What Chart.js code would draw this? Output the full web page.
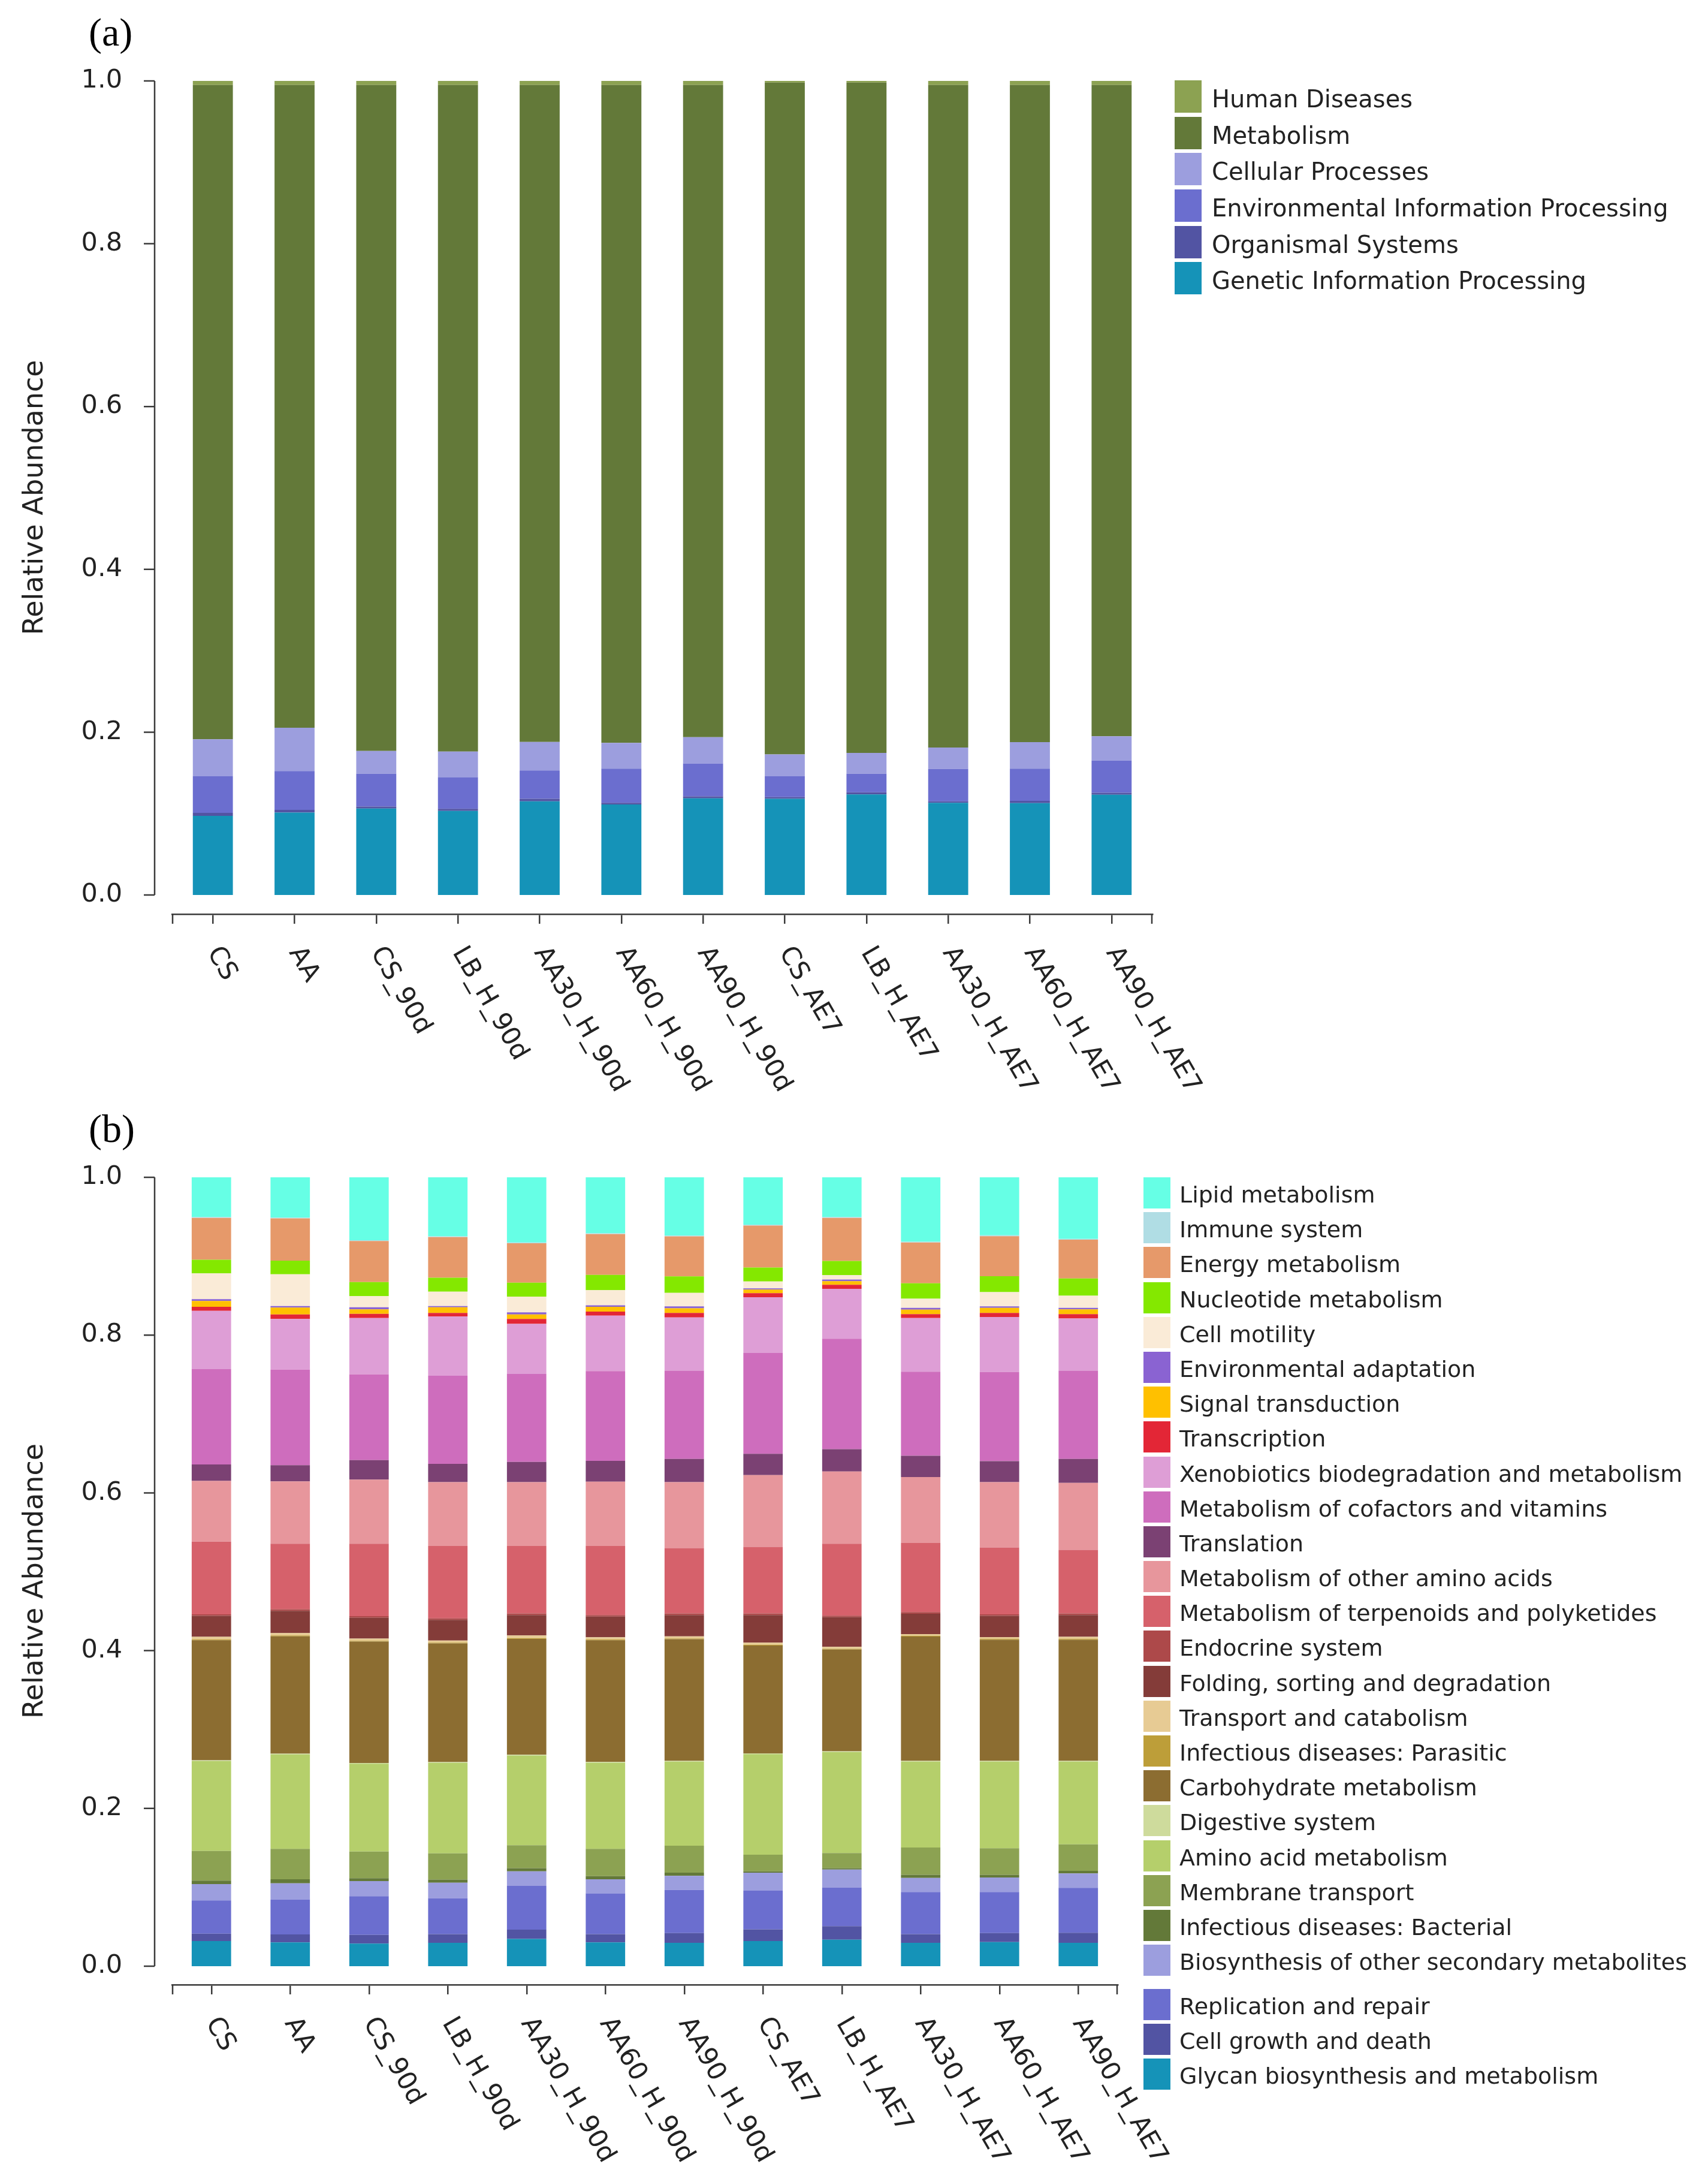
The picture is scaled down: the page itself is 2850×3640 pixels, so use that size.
<!DOCTYPE html>
<html>
<head>
<meta charset="utf-8">
<script src="https://cdn.jsdelivr.net/npm/chart.js@4.4.1/dist/chart.umd.min.js"></script>
<style>
html,body{margin:0;padding:0;background:#fff;}
body{width:2850px;height:3640px;position:relative;overflow:hidden;font-family:"DejaVu Sans",sans-serif;}
canvas{position:absolute;left:0;}
#cA{top:0;}
#cB{top:1830px;}
.panel{position:absolute;left:148px;font-family:"Liberation Serif","Times New Roman",serif;font-size:66px;line-height:66px;color:#000;}
.legend{position:absolute;margin:0;padding:0;list-style:none;color:#222;font-family:"DejaVu Sans",sans-serif;}
.legend li{display:flex;align-items:flex-start;white-space:nowrap;box-sizing:border-box;overflow:hidden;}
.legend .sw{flex:none;display:block;}
.legend .tx{display:block;}
</style>
</head>
<body>
<div class="panel" style="top:21px;">(a)</div>
<div class="panel" style="top:1850px;">(b)</div>
<canvas id="cA" width="2100" height="1830"></canvas>
<canvas id="cB" width="2100" height="1810"></canvas>
<ul class="legend" id="legA"></ul>
<ul class="legend" id="legB"></ul>
<script>
// ---------------- data ----------------
const categories = ['CS','AA','CS_90d','LB_H_90d','AA30_H_90d','AA60_H_90d','AA90_H_90d','CS_AE7','LB_H_AE7','AA30_H_AE7','AA60_H_AE7','AA90_H_AE7'];
const yTicks = [0, 0.2, 0.4, 0.6, 0.8, 1.0];
const yTickLabels = ['0.0', '0.2', '0.4', '0.6', '0.8', '1.0'];
const yTitle = 'Relative Abundance';

// Panel (a) – KEGG level 1 (bottom to top)
const geneticInfoA   = [0.0972,0.1013,0.1063,0.1033,0.1150,0.1112,0.1187,0.1182,0.1236,0.1133,0.1128,0.1231];
const organismalA    = [0.0036,0.0032,0.0024,0.0025,0.0032,0.0021,0.0025,0.0020,0.0025,0.0017,0.0029,0.0025];
const envInfoA       = [0.0454,0.0477,0.0402,0.0389,0.0347,0.0418,0.0403,0.0260,0.0228,0.0399,0.0394,0.0396];
const cellularA      = [0.0451,0.0532,0.0280,0.0315,0.0351,0.0317,0.0323,0.0265,0.0256,0.0262,0.0327,0.0298];
const metabolismA    = [0.8037,0.7896,0.8181,0.8188,0.8070,0.8082,0.8012,0.8253,0.8235,0.8139,0.8072,0.8000];
const humanDiseaseA  = [0.0050,0.0050,0.0050,0.0050,0.0050,0.0050,0.0050,0.0020,0.0020,0.0050,0.0050,0.0050];

// Panel (b) – KEGG level 2 (bottom to top)
const glycanB        = [0.0319,0.0302,0.0286,0.0296,0.0346,0.0302,0.0296,0.0319,0.0336,0.0296,0.0306,0.0296];
const cellGrowthB    = [0.0094,0.0101,0.0110,0.0110,0.0118,0.0104,0.0124,0.0148,0.0171,0.0110,0.0114,0.0127];
const replicationB   = [0.0420,0.0443,0.0491,0.0454,0.0554,0.0518,0.0547,0.0490,0.0491,0.0535,0.0521,0.0571];
const biosynthB      = [0.0208,0.0205,0.0191,0.0198,0.0185,0.0178,0.0178,0.0229,0.0228,0.0178,0.0184,0.0182];
const bacterialB     = [0.0044,0.0051,0.0037,0.0040,0.0040,0.0040,0.0041,0.0017,0.0017,0.0040,0.0034,0.0033];
const membraneB      = [0.0376,0.0386,0.0339,0.0333,0.0289,0.0346,0.0342,0.0211,0.0191,0.0346,0.0336,0.0336];
const aminoAcidB     = [0.1139,0.1196,0.1112,0.1146,0.1138,0.1092,0.1065,0.1273,0.1280,0.1088,0.1098,0.1048];
const digestiveB     = [0.0010,0.0010,0.0010,0.0010,0.0010,0.0010,0.0010,0.0010,0.0010,0.0010,0.0010,0.0010];
const carbohydrateB  = [0.1522,0.1488,0.1539,0.1504,0.1469,0.1542,0.1542,0.1368,0.1290,0.1576,0.1535,0.1535];
const parasiticB     = [0.0010,0.0010,0.0010,0.0010,0.0010,0.0010,0.0010,0.0010,0.0010,0.0010,0.0010,0.0010];
const transportB     = [0.0033,0.0030,0.0027,0.0027,0.0033,0.0027,0.0027,0.0026,0.0024,0.0020,0.0024,0.0027];
const foldingB       = [0.0266,0.0283,0.0265,0.0262,0.0259,0.0262,0.0269,0.0350,0.0376,0.0259,0.0269,0.0276];
const endocrineB     = [0.0020,0.0020,0.0020,0.0020,0.0020,0.0020,0.0020,0.0020,0.0020,0.0020,0.0020,0.0020];
const terpenoidB     = [0.0920,0.0830,0.0918,0.0916,0.0855,0.0875,0.0829,0.0845,0.0911,0.0877,0.0846,0.0807];
const otherAminoB    = [0.0771,0.0790,0.0813,0.0810,0.0810,0.0816,0.0836,0.0910,0.0915,0.0835,0.0829,0.0848];
const translationB   = [0.0208,0.0206,0.0247,0.0231,0.0257,0.0263,0.0295,0.0269,0.0283,0.0270,0.0266,0.0305];
const cofactorsB     = [0.1208,0.1211,0.1086,0.1118,0.1114,0.1138,0.1118,0.1279,0.1401,0.1066,0.1131,0.1118];
const xenobioticsB   = [0.0739,0.0642,0.0716,0.0751,0.0636,0.0703,0.0675,0.0707,0.0633,0.0681,0.0697,0.0662];
const transcriptionB = [0.0052,0.0058,0.0052,0.0045,0.0061,0.0051,0.0057,0.0051,0.0051,0.0048,0.0051,0.0054];
const signalB        = [0.0073,0.0087,0.0057,0.0071,0.0058,0.0061,0.0058,0.0045,0.0045,0.0058,0.0065,0.0061];
const envAdaptB      = [0.0023,0.0019,0.0026,0.0016,0.0026,0.0020,0.0026,0.0016,0.0022,0.0023,0.0019,0.0020];
const motilityB      = [0.0328,0.0402,0.0141,0.0183,0.0199,0.0192,0.0170,0.0087,0.0055,0.0115,0.0180,0.0154];
const nucleotideB    = [0.0173,0.0173,0.0180,0.0177,0.0177,0.0193,0.0209,0.0176,0.0180,0.0196,0.0202,0.0218];
const energyB        = [0.0530,0.0536,0.0520,0.0514,0.0500,0.0517,0.0507,0.0533,0.0546,0.0517,0.0507,0.0491];
const immuneB        = [0.0010,0.0010,0.0010,0.0010,0.0010,0.0010,0.0010,0.0010,0.0010,0.0010,0.0010,0.0010];
const lipidB         = [0.0504,0.0511,0.0797,0.0748,0.0826,0.0710,0.0739,0.0601,0.0504,0.0816,0.0736,0.0781];

// ---------------- series (stack order: bottom first) ----------------
const seriesA = [
  {label:'Genetic Information Processing', data:geneticInfoA, color:'#1593b8'},
  {label:'Organismal Systems', data:organismalA, color:'#5254a3'},
  {label:'Environmental Information Processing', data:envInfoA, color:'#6b6ecf'},
  {label:'Cellular Processes', data:cellularA, color:'#9c9ede'},
  {label:'Metabolism', data:metabolismA, color:'#637939'},
  {label:'Human Diseases', data:humanDiseaseA, color:'#8ca252'}
];
const seriesB = [
  {label:'Glycan biosynthesis and metabolism', data:glycanB, color:'#1593b8'},
  {label:'Cell growth and death', data:cellGrowthB, color:'#5254a3'},
  {label:'Replication and repair', data:replicationB, color:'#6b6ecf'},
  {label:'Biosynthesis of other secondary metabolites', data:biosynthB, color:'#9c9ede'},
  {label:'Infectious diseases: Bacterial', data:bacterialB, color:'#637939'},
  {label:'Membrane transport', data:membraneB, color:'#8ca252'},
  {label:'Amino acid metabolism', data:aminoAcidB, color:'#b5cf6b'},
  {label:'Digestive system', data:digestiveB, color:'#cedb9c'},
  {label:'Carbohydrate metabolism', data:carbohydrateB, color:'#8c6d31'},
  {label:'Infectious diseases: Parasitic', data:parasiticB, color:'#bd9e39'},
  {label:'Transport and catabolism', data:transportB, color:'#e7cb94'},
  {label:'Folding, sorting and degradation', data:foldingB, color:'#843c39'},
  {label:'Endocrine system', data:endocrineB, color:'#ad494a'},
  {label:'Metabolism of terpenoids and polyketides', data:terpenoidB, color:'#d6616b'},
  {label:'Metabolism of other amino acids', data:otherAminoB, color:'#e7969c'},
  {label:'Translation', data:translationB, color:'#7b4173'},
  {label:'Metabolism of cofactors and vitamins', data:cofactorsB, color:'#ce6dbd'},
  {label:'Xenobiotics biodegradation and metabolism', data:xenobioticsB, color:'#de9ed6'},
  {label:'Transcription', data:transcriptionB, color:'#e32636'},
  {label:'Signal transduction', data:signalB, color:'#ffc000'},
  {label:'Environmental adaptation', data:envAdaptB, color:'#8a63d2'},
  {label:'Cell motility', data:motilityB, color:'#faebd7'},
  {label:'Nucleotide metabolism', data:nucleotideB, color:'#84e800'},
  {label:'Energy metabolism', data:energyB, color:'#e6996a'},
  {label:'Immune system', data:immuneB, color:'#b0dde4'},
  {label:'Lipid metabolism', data:lipidB, color:'#66ffe5'}
];

// ---------------- drawing ----------------
const axisColor = '#3a3a3a';
const textColor = '#222';
const axisPlugin = {
  id: 'axisDecor',
  afterDraw(chart) {
    const {ctx, chartArea, scales: {x, y}} = chart;
    ctx.save();
    ctx.strokeStyle = axisColor;
    ctx.lineWidth = 2.5;
    const ax = chartArea.left - 29;
    const yA = y.getPixelForValue(yTicks[0]);
    const yB = y.getPixelForValue(yTicks[yTicks.length - 1]);
    ctx.beginPath();
    ctx.moveTo(ax, yA); ctx.lineTo(ax, yB);
    yTicks.forEach(v => { const py = y.getPixelForValue(v); ctx.moveTo(ax - 18, py); ctx.lineTo(ax, py); });
    const bx = x.top;
    ctx.moveTo(chartArea.left + 1, bx); ctx.lineTo(chartArea.left + 1, bx + 16);
    ctx.moveTo(chartArea.right - 1, bx); ctx.lineTo(chartArea.right - 1, bx + 16);
    ctx.stroke();
    ctx.fillStyle = textColor;
    ctx.font = '43px "DejaVu Sans"';
    ctx.textAlign = 'left';
    ctx.textBaseline = 'middle';
    chart.data.labels.forEach((lab, i) => {
      const px = x.getPixelForValue(i);
      ctx.save();
      ctx.translate(px, bx + 58);
      ctx.rotate(Math.PI / 3);
      ctx.fillText(lab, 0, 0);
      ctx.restore();
    });
    ctx.restore();
  }
};

function makeChart(id, series, o) {
  return new Chart(document.getElementById(id), {
    type: 'bar',
    data: {
      labels: categories,
      datasets: series.map(s => ({
        label: s.label, data: s.data, backgroundColor: s.color,
        borderWidth: 0, barPercentage: o.barPct, categoryPercentage: 1
      }))
    },
    options: {
      responsive: false, animation: false, devicePixelRatio: 1,
      layout: {padding: {left: 0, top: o.top, right: o.right, bottom: o.bottom}},
      plugins: {legend: {display: false}, tooltip: {enabled: false}},
      scales: {
        x: {
          stacked: true, offset: true,
          grid: {display: true, offset: false, drawOnChartArea: false, drawTicks: true, tickLength: 16, color: axisColor, lineWidth: 2.5},
          border: {display: true, color: axisColor, width: 2.5},
          ticks: {display: false},
          afterFit: s => { s.height = 275; }
        },
        y: {
          stacked: true, min: o.min, max: 1,
          grid: {display: false},
          border: {display: false},
          ticks: {padding: 75, color: textColor, font: {family: 'DejaVu Sans', size: 43},
                  callback: (v, i) => yTickLabels[i]},
          afterBuildTicks: s => { s.ticks = yTicks.map(v => ({value: v})); },
          title: {display: true, text: yTitle, color: textColor,
                  font: {family: 'DejaVu Sans', size: 46}, padding: {top: 31, bottom: 0}},
          afterFit: s => { s.width = 287; }
        }
      }
    },
    plugins: [axisPlugin]
  });
}

const chartA = makeChart('cA', seriesA, {top: 135, right: 177, bottom: 30, min: -32 / 1358, barPct: 0.49});
const chartB = makeChart('cB', seriesB, {top: 134, right: 235, bottom: 54, min: -31 / 1315, barPct: 0.5});

function buildLegend(ulId, chart, L) {
  const ul = document.getElementById(ulId);
  ul.style.left = L.left + 'px';
  ul.style.top = L.top + 'px';
  const ds = chart.data.datasets.slice().reverse();
  ds.forEach((d, i) => {
    const li = document.createElement('li');
    li.style.height = (L.clip && L.clip[i] ? L.clip[i] : L.row) + 'px';
    li.style.paddingTop = L.pad + 'px';
    if (L.gap && L.gap[i]) li.style.marginTop = L.gap[i] + 'px';
    const sw = document.createElement('span');
    sw.className = 'sw';
    sw.style.width = L.sw + 'px';
    sw.style.height = L.sh + 'px';
    sw.style.background = d.backgroundColor;
    const tx = document.createElement('span');
    tx.className = 'tx';
    tx.textContent = d.label;
    tx.style.marginLeft = L.gapText + 'px';
    tx.style.fontSize = L.font + 'px';
    tx.style.lineHeight = L.sh + 'px';
    tx.style.transform = 'translateY(' + L.dy + 'px)';
    li.appendChild(sw);
    li.appendChild(tx);
    ul.appendChild(li);
  });
}
buildLegend('legA', chartA, {left: 1960, top: 131, row: 60.7, pad: 3, sw: 45, sh: 54, gapText: 17, font: 40, dy: 4});
buildLegend('legB', chartB, {left: 1908, top: 1961, row: 58.2, pad: 3, sw: 45, sh: 52, gapText: 15, font: 38, dy: 3,
  clip: {22: 54.5}, gap: {23: 19}});
</script>
</body>
</html>
